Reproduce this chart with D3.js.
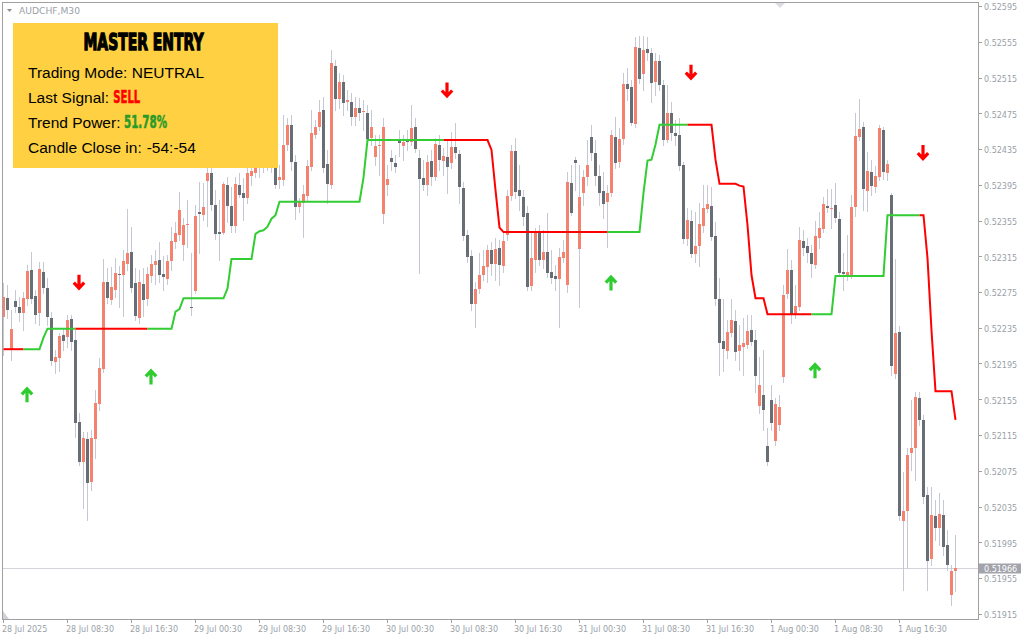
<!DOCTYPE html>
<html><head><meta charset="utf-8">
<script src="https://cdn.jsdelivr.net/npm/d3@7"></script>
<style>
html,body{margin:0;padding:0;background:#ffffff;}
svg{display:block;}
</style></head><body>
<svg id="chart" width="1024" height="640"></svg>
<script>
const symbolLabel = "AUDCHF,M30";

const opens = [
0.52247,0.52268,0.52211,0.52265,0.52258,0.52251,0.52267,0.52300,0.52271,0.52251,
0.52297,0.52279,0.52246,0.52197,0.52201,0.52227,0.52225,0.52245,0.52221,0.52130,
0.52085,0.52111,0.52062,0.52111,0.52150,0.52189,0.52286,0.52266,0.52277,0.52295,
0.52294,0.52306,0.52320,0.52285,0.52246,0.52284,0.52267,0.52293,0.52305,0.52311,
0.52295,0.52290,0.52310,0.52331,0.52339,0.52328,0.52350,0.52258,0.52276,0.52365,
0.52361,0.52399,0.52408,0.52372,0.52342,0.52341,0.52395,0.52371,0.52349,0.52395,
0.52386,0.52380,0.52405,0.52408,0.52415,0.52425,0.52417,0.52434,0.52414,0.52400,
0.52400,0.52440,0.52462,0.52420,0.52370,0.52375,0.52382,0.52415,0.52451,0.52460,
0.52479,0.52418,0.52395,0.52528,0.52491,0.52510,0.52488,0.52488,0.52471,0.52481,
0.52476,0.52475,0.52447,0.52426,0.52438,0.52362,0.52395,0.52425,0.52419,0.52445,
0.52438,0.52445,0.52443,0.52460,0.52425,0.52403,0.52395,0.52422,0.52404,0.52440,
0.52422,0.52426,0.52419,0.52437,0.52429,0.52391,0.52339,0.52315,0.52262,0.52278,
0.52294,0.52303,0.52322,0.52306,0.52324,0.52304,0.52339,0.52382,0.52433,0.52389,
0.52381,0.52363,0.52282,0.52311,0.52341,0.52311,0.52320,0.52297,0.52293,0.52290,
0.52313,0.52283,0.52397,0.52423,0.52323,0.52386,0.52404,0.52448,0.52431,0.52405,
0.52388,0.52376,0.52386,0.52448,0.52420,0.52446,0.52508,0.52504,0.52463,0.52548,
0.52519,0.52547,0.52542,0.52510,0.52534,0.52507,0.52445,0.52475,0.52453,0.52451,
0.52417,0.52334,0.52354,0.52318,0.52326,0.52349,0.52368,0.52371,0.52338,0.52267,
0.52220,0.52209,0.52229,0.52243,0.52209,0.52214,0.52216,0.52232,0.52221,0.52147,
0.52160,0.52103,0.52154,0.52108,0.52126,0.52180,0.52273,0.52300,0.52250,0.52258,
0.52332,0.52326,0.52319,0.52305,0.52335,0.52346,0.52371,0.52368,0.52372,0.52357,
0.52297,0.52294,0.52294,0.52370,0.52448,0.52460,0.52388,0.52409,0.52393,0.52404,
0.52456,0.52408,0.52384,0.52183,0.52230,0.52019,0.52030,0.52095,0.52100,0.52156,
0.52132,0.52048,0.51976,0.52024,0.52011,0.52025,0.51992,0.51936,0.51963];

const highs = [
0.52285,0.52283,0.52255,0.52277,0.52269,0.52275,0.52305,0.52320,0.52277,0.52309,
0.52309,0.52291,0.52253,0.52210,0.52229,0.52235,0.52249,0.52249,0.52232,0.52140,
0.52118,0.52118,0.52121,0.52165,0.52201,0.52312,0.52302,0.52303,0.52313,0.52304,
0.52322,0.52368,0.52348,0.52302,0.52300,0.52302,0.52303,0.52316,0.52322,0.52331,
0.52315,0.52316,0.52348,0.52353,0.52387,0.52358,0.52378,0.52319,0.52372,0.52398,
0.52397,0.52415,0.52420,0.52389,0.52378,0.52398,0.52404,0.52393,0.52404,0.52408,
0.52403,0.52414,0.52423,0.52428,0.52434,0.52436,0.52441,0.52437,0.52423,0.52417,
0.52473,0.52470,0.52473,0.52428,0.52380,0.52395,0.52423,0.52479,0.52467,0.52490,
0.52493,0.52434,0.52546,0.52535,0.52520,0.52518,0.52501,0.52498,0.52493,0.52492,
0.52490,0.52484,0.52479,0.52451,0.52451,0.52470,0.52417,0.52434,0.52428,0.52456,
0.52451,0.52456,0.52484,0.52470,0.52434,0.52423,0.52428,0.52434,0.52447,0.52451,
0.52436,0.52445,0.52454,0.52464,0.52434,0.52398,0.52344,0.52322,0.52286,0.52319,
0.52322,0.52328,0.52331,0.52335,0.52333,0.52341,0.52389,0.52440,0.52447,0.52417,
0.52389,0.52371,0.52342,0.52347,0.52350,0.52344,0.52363,0.52322,0.52305,0.52324,
0.52333,0.52409,0.52417,0.52426,0.52417,0.52412,0.52445,0.52462,0.52445,0.52417,
0.52409,0.52395,0.52456,0.52471,0.52459,0.52520,0.52526,0.52512,0.52560,0.52561,
0.52561,0.52560,0.52548,0.52542,0.52540,0.52512,0.52507,0.52488,0.52467,0.52470,
0.52420,0.52369,0.52367,0.52365,0.52375,0.52395,0.52395,0.52393,0.52353,0.52291,
0.52267,0.52244,0.52267,0.52255,0.52238,0.52246,0.52249,0.52249,0.52232,0.52202,
0.52210,0.52123,0.52171,0.52156,0.52160,0.52283,0.52323,0.52311,0.52283,0.52348,
0.52344,0.52335,0.52328,0.52354,0.52365,0.52381,0.52390,0.52390,0.52397,0.52365,
0.52319,0.52339,0.52384,0.52475,0.52491,0.52465,0.52432,0.52423,0.52416,0.52462,
0.52460,0.52423,0.52386,0.52312,0.52237,0.52074,0.52100,0.52154,0.52163,0.52163,
0.52137,0.52057,0.52057,0.52042,0.52050,0.52042,0.52009,0.51970,0.52003];

const lows = [
0.52205,0.52246,0.52199,0.52253,0.52243,0.52232,0.52260,0.52263,0.52240,0.52238,
0.52274,0.52238,0.52193,0.52184,0.52187,0.52210,0.52214,0.52210,0.52113,0.52081,
0.52033,0.52020,0.52053,0.52089,0.52143,0.52185,0.52263,0.52262,0.52269,0.52258,
0.52248,0.52300,0.52275,0.52244,0.52240,0.52248,0.52260,0.52286,0.52284,0.52286,
0.52277,0.52284,0.52300,0.52324,0.52333,0.52311,0.52325,0.52249,0.52274,0.52319,
0.52356,0.52349,0.52367,0.52334,0.52311,0.52340,0.52353,0.52342,0.52342,0.52381,
0.52356,0.52375,0.52395,0.52404,0.52404,0.52409,0.52412,0.52409,0.52391,0.52391,
0.52395,0.52434,0.52412,0.52357,0.52365,0.52337,0.52378,0.52412,0.52447,0.52456,
0.52409,0.52375,0.52391,0.52479,0.52481,0.52473,0.52479,0.52462,0.52462,0.52467,
0.52456,0.52441,0.52440,0.52417,0.52406,0.52352,0.52384,0.52412,0.52409,0.52427,
0.52423,0.52434,0.52440,0.52432,0.52296,0.52389,0.52384,0.52395,0.52400,0.52412,
0.52406,0.52386,0.52414,0.52425,0.52375,0.52333,0.52309,0.52255,0.52236,0.52274,
0.52288,0.52286,0.52294,0.52288,0.52283,0.52297,0.52333,0.52378,0.52380,0.52367,
0.52350,0.52277,0.52277,0.52297,0.52305,0.52302,0.52292,0.52285,0.52277,0.52236,
0.52309,0.52275,0.52361,0.52389,0.52258,0.52372,0.52395,0.52423,0.52395,0.52372,
0.52358,0.52325,0.52382,0.52414,0.52415,0.52441,0.52490,0.52462,0.52460,0.52509,
0.52501,0.52535,0.52488,0.52495,0.52501,0.52440,0.52443,0.52445,0.52440,0.52412,
0.52330,0.52328,0.52314,0.52309,0.52304,0.52342,0.52365,0.52333,0.52260,0.52182,
0.52187,0.52201,0.52226,0.52199,0.52188,0.52182,0.52212,0.52216,0.52163,0.52140,
0.52121,0.52081,0.52121,0.52104,0.52121,0.52174,0.52268,0.52240,0.52246,0.52255,
0.52316,0.52309,0.52292,0.52302,0.52324,0.52342,0.52365,0.52347,0.52353,0.52293,
0.52277,0.52288,0.52291,0.52360,0.52445,0.52367,0.52366,0.52384,0.52387,0.52400,
0.52401,0.52400,0.52182,0.52179,0.52020,0.51942,0.51966,0.52076,0.52065,0.52126,
0.52039,0.51942,0.51970,0.51998,0.51992,0.51981,0.51964,0.51925,0.51940];

const closes = [
0.52269,0.52255,0.52234,0.52258,0.52251,0.52268,0.52299,0.52267,0.52249,0.52301,
0.52279,0.52247,0.52198,0.52202,0.52226,0.52220,0.52244,0.52219,0.52128,0.52085,
0.52112,0.52061,0.52112,0.52151,0.52190,0.52286,0.52268,0.52281,0.52296,0.52294,
0.52310,0.52319,0.52279,0.52248,0.52286,0.52266,0.52295,0.52306,0.52310,0.52294,
0.52292,0.52310,0.52332,0.52341,0.52367,0.52350,0.52351,0.52257,0.52360,0.52362,
0.52370,0.52408,0.52372,0.52340,0.52340,0.52396,0.52371,0.52349,0.52396,0.52384,
0.52380,0.52408,0.52410,0.52415,0.52425,0.52417,0.52434,0.52415,0.52395,0.52404,
0.52440,0.52462,0.52420,0.52370,0.52376,0.52385,0.52416,0.52453,0.52460,0.52476,
0.52414,0.52396,0.52531,0.52491,0.52510,0.52487,0.52490,0.52471,0.52481,0.52475,
0.52478,0.52446,0.52460,0.52438,0.52440,0.52460,0.52401,0.52420,0.52415,0.52442,
0.52443,0.52443,0.52459,0.52435,0.52401,0.52395,0.52420,0.52404,0.52441,0.52423,
0.52427,0.52415,0.52437,0.52431,0.52393,0.52338,0.52314,0.52262,0.52278,0.52294,
0.52304,0.52322,0.52306,0.52323,0.52305,0.52332,0.52382,0.52433,0.52387,0.52382,
0.52359,0.52281,0.52313,0.52341,0.52311,0.52320,0.52296,0.52291,0.52290,0.52314,
0.52320,0.52398,0.52363,0.52419,0.52381,0.52404,0.52417,0.52431,0.52405,0.52386,
0.52373,0.52386,0.52451,0.52419,0.52446,0.52508,0.52502,0.52464,0.52549,0.52513,
0.52546,0.52542,0.52509,0.52534,0.52507,0.52445,0.52475,0.52453,0.52450,0.52416,
0.52334,0.52356,0.52318,0.52326,0.52351,0.52369,0.52373,0.52337,0.52267,0.52218,
0.52211,0.52230,0.52244,0.52208,0.52216,0.52218,0.52231,0.52219,0.52181,0.52171,
0.52143,0.52085,0.52128,0.52150,0.52146,0.52272,0.52300,0.52250,0.52259,0.52333,
0.52324,0.52319,0.52306,0.52338,0.52347,0.52373,0.52369,0.52369,0.52358,0.52296,
0.52295,0.52297,0.52370,0.52450,0.52457,0.52390,0.52410,0.52394,0.52405,0.52459,
0.52409,0.52418,0.52192,0.52229,0.52024,0.52030,0.52093,0.52100,0.52158,0.52132,
0.52046,0.51974,0.52025,0.52011,0.52027,0.51990,0.51970,0.51963,0.51966];

// trailing trend line, run-length: level held for N bars
const trendLevels = [0.52211,0.52224,0.52234,0.52253,0.52256,0.52268,0.52279,0.52312,0.52340,0.52343,
  0.52344,0.52348,0.52357,0.52361,0.52376,0.52403,0.52445,0.52434,0.52389,0.52347,
  0.52342,0.52386,0.52422,0.52423,0.52440,0.52462,0.52423,0.52396,0.52394,0.52393,
  0.52350,0.52294,0.52268,0.52250,0.52293,0.52361,0.52313,0.52232,0.52164,0.52132];
const trendCounts = [10,1,32,1,1,11,1,6,1,1, 1,1,1,1,21,1,31,1,1,1, 35,1,1,1,1,14,1,5,1,1, 1,1,3,17,13,10,1,1,5,1];
const trendDirs = ["down","up","down","up","down","up","down","up","down"];
const trendDirCounts = [6,13,18,74,41,20,31,27,9];

const upArrowBars = [6,37,152,203];
const upArrowPrices = [0.52160,0.52180,0.52285,0.52187];
const downArrowBars = [19,111,172,230];
const downArrowPrices = [0.52286,0.52501,0.52521,0.52431];

const priceTicks = [0.52595,0.52555,0.52515,0.52475,0.52435,0.52395,0.52355,0.52315,0.52275,
  0.52235,0.52195,0.52155,0.52115,0.52075,0.52035,0.51995,0.51955,0.51915];
const timeLabels = ["28 Jul 2025","28 Jul 08:30","28 Jul 16:30","29 Jul 00:30","29 Jul 08:30",
  "29 Jul 16:30","30 Jul 00:30","30 Jul 08:30","30 Jul 16:30","31 Jul 00:30","31 Jul 08:30",
  "31 Jul 16:30","1 Aug 00:30","1 Aug 08:30","1 Aug 16:30"];
const timeLabelBars = [0,16,32,48,64,80,96,112,128,144,160,176,192,208,224];
const lastPrice = 0.51966;

const panelTitle = "MASTER ENTRY";
const panelLabels = ["Trading Mode:","Last Signal:","Trend Power:","Candle Close in:"];
const panelValues = ["NEUTRAL","SELL","51.78%","-54:-54"];

// ---------- drawing ----------
const svg = d3.select("#chart");
const n = opens.length;
const x = d3.scaleLinear().domain([0, n - 1]).range([3.5, 3.5 + 4 * (n - 1)]);
const y = d3.scaleLinear().domain([0.51915, 0.52595]).range([613.75, 6]);

const BULL = "#f4826f", BEAR = "#686d76", WICK = "#c6c9d2";
const AXIS = "#a0a0a0", TXT = "#9a9fa8";

svg.append("rect").attr("width",1024).attr("height",640).attr("fill","#ffffff");

// last price line
svg.append("line").attr("x1",3).attr("x2",978).attr("y1",Math.round(y(lastPrice))+0.5).attr("y2",Math.round(y(lastPrice))+0.5)
  .attr("stroke","#d2d4da").attr("stroke-width",1).attr("shape-rendering","crispEdges");

const bars = d3.range(n);
const g = svg.append("g").attr("shape-rendering","crispEdges");
g.selectAll("line.wick").data(bars).join("line").attr("class","wick")
  .attr("x1", i => x(i)).attr("x2", i => x(i))
  .attr("y1", i => Math.round(y(highs[i]))).attr("y2", i => Math.round(y(lows[i])) + 1)
  .attr("stroke", WICK).attr("stroke-width", 1);
g.selectAll("rect.body").data(bars).join("rect").attr("class","body")
  .attr("x", i => x(i) - 1.5).attr("width", 3)
  .attr("y", i => Math.round(y(Math.max(opens[i], closes[i]))))
  .attr("height", i => Math.max(1, Math.round(y(Math.min(opens[i], closes[i]))) - Math.round(y(Math.max(opens[i], closes[i])))))
  .attr("fill", i => closes[i] >= opens[i] ? BULL : BEAR);

// trend line
const trend = [];
trendLevels.forEach((v, k) => { for (let j = 0; j < trendCounts[k]; j++) trend.push(v); });
const dirs = [];
trendDirs.forEach((d, k) => { for (let j = 0; j < trendDirCounts[k]; j++) dirs.push(d); });
const segs = []; let cur = null;
for (let i = 1; i < trend.length; i++) {
  if (!cur || cur.dir !== dirs[i]) { cur = { dir: dirs[i], pts: [i - 1] }; segs.push(cur); }
  cur.pts.push(i);
}
const line = d3.line().x(i => x(i)).y(i => y(trend[i]));
svg.append("g").selectAll("path").data(segs).join("path")
  .attr("d", s => line(s.pts)).attr("fill","none")
  .attr("stroke", s => s.dir === "up" ? "#32cd32" : "#ff0000")
  .attr("stroke-width", 2).attr("stroke-linejoin","miter");

// arrows
function arrowPath(cx, cy, up) {
  const s = up ? 1 : -1;
  return `M${cx},${cy + 7.5*s} L${cx},${cy - 5.5*s} M${cx - 5.2},${cy - 0.5*s} L${cx},${cy - 6*s} L${cx + 5.2},${cy - 0.5*s}`;
}
svg.append("g").selectAll("path").data(upArrowBars).join("path")
  .attr("d", (b, k) => arrowPath(x(b) - 0.5, y(upArrowPrices[k]), true))
  .attr("fill","none").attr("stroke","#2ecc2e").attr("stroke-width",3.2);
svg.append("g").selectAll("path").data(downArrowBars).join("path")
  .attr("d", (b, k) => arrowPath(x(b) - 0.5, y(downArrowPrices[k]), false))
  .attr("fill","none").attr("stroke","#ff0000").attr("stroke-width",3.2);

// frame
const fr = svg.append("g").attr("shape-rendering","crispEdges").attr("stroke",AXIS).attr("stroke-width",1);
fr.append("line").attr("x1",2).attr("x2",979).attr("y1",2.5).attr("y2",2.5);
fr.append("line").attr("x1",2.5).attr("x2",2.5).attr("y1",2).attr("y2",620);
fr.append("line").attr("x1",978.5).attr("x2",978.5).attr("y1",2).attr("y2",620);
fr.append("line").attr("x1",2).attr("x2",979).attr("y1",619.5).attr("y2",619.5);

// y axis
const fmt = d3.format(".5f");
const ya = svg.append("g");
ya.selectAll("line").data(priceTicks).join("line")
  .attr("x1",979).attr("x2",982).attr("y1", t => Math.round(y(t)) + 0.5).attr("y2", t => Math.round(y(t)) + 0.5)
  .attr("stroke",AXIS).attr("shape-rendering","crispEdges");
ya.selectAll("text").data(priceTicks).join("text")
  .attr("x",984).attr("y", t => y(t) + 4.3).text(t => fmt(t))
  .attr("font-family","DejaVu Sans, Verdana, sans-serif").attr("font-size","8px").attr("fill",TXT);

// last price label
svg.append("rect").attr("x",979).attr("y",Math.round(y(lastPrice)) - 4.5).attr("width",42).attr("height",10).attr("fill","#a2a3ab");
svg.append("text").attr("x",984).attr("y",y(lastPrice) + 4.2).text(fmt(lastPrice))
  .attr("font-family","DejaVu Sans, Verdana, sans-serif").attr("font-size","8px").attr("fill","#ffffff");

// x axis
const xa = svg.append("g");
xa.selectAll("line").data(timeLabelBars).join("line")
  .attr("x1", b => Math.floor(x(b)) + 0.5).attr("x2", b => Math.floor(x(b)) + 0.5).attr("y1",620).attr("y2",623)
  .attr("stroke",AXIS).attr("shape-rendering","crispEdges");
xa.selectAll("text").data(timeLabelBars).join("text")
  .attr("x", b => Math.floor(x(b)) - 1).attr("y",631.5).text((b, k) => timeLabels[k])
  .attr("font-family","DejaVu Sans, Verdana, sans-serif").attr("font-size","8px").attr("fill",TXT);

// little markers
svg.append("path").attr("d","M3,611 L3,619 L9,619 Z").attr("fill","#cfd1d8");
svg.append("path").attr("d","M775,3 L785,3 L780,8 Z").attr("fill","#dcdde2");
svg.append("path").attr("d","M7,9 L12,9 L9.5,12 Z").attr("fill","#8a8e96");
svg.append("text").attr("x",19).attr("y",13.5).text(symbolLabel)
  .attr("font-family","DejaVu Sans, Verdana, sans-serif").attr("font-size","9px")
  .attr("textLength",61).attr("lengthAdjust","spacingAndGlyphs").attr("fill",TXT);

// info panel
const panel = svg.append("g");
panel.append("rect").attr("x",13).attr("y",23).attr("width",265).attr("height",145).attr("fill","#ffd142");
panel.append("text").attr("x",83.5).attr("y",50).text(panelTitle)
  .attr("font-family","Liberation Sans Narrow, DejaVu Sans Condensed, Arial Narrow, sans-serif")
  .attr("font-weight","bold").attr("font-size","23px").attr("textLength",120).attr("lengthAdjust","spacingAndGlyphs")
  .attr("fill","#000").attr("stroke","#000").attr("stroke-width",1.3);
const rowBase = [78, 103, 128, 153];
const valX = [131.7, 113.3, 124, 146.7];
panelLabels.forEach((lab, k) => {
  panel.append("text").attr("x",28).attr("y",rowBase[k]).text(lab)
    .attr("font-family","Liberation Sans, Arial, sans-serif").attr("font-size","15.5px").attr("fill","#000");
});
panelValues.forEach((v, k) => {
  const t = panel.append("text").attr("x",valX[k]).attr("y",rowBase[k]).text(v);
  if (k === 1 || k === 2) {
    t.attr("font-family","Liberation Sans Narrow, DejaVu Sans Condensed, sans-serif").attr("font-weight","bold")
     .attr("font-size","17px").attr("textLength", k === 1 ? 27 : 43).attr("lengthAdjust","spacingAndGlyphs")
     .attr("fill", k === 1 ? "#ff0000" : "#2a9a2a").attr("stroke", k === 1 ? "#ff0000" : "#2a9a2a").attr("stroke-width",0.5);
  } else {
    t.attr("font-family","Liberation Sans, Arial, sans-serif").attr("font-size","15.5px").attr("fill","#000");
  }
});
</script>
</body></html>
